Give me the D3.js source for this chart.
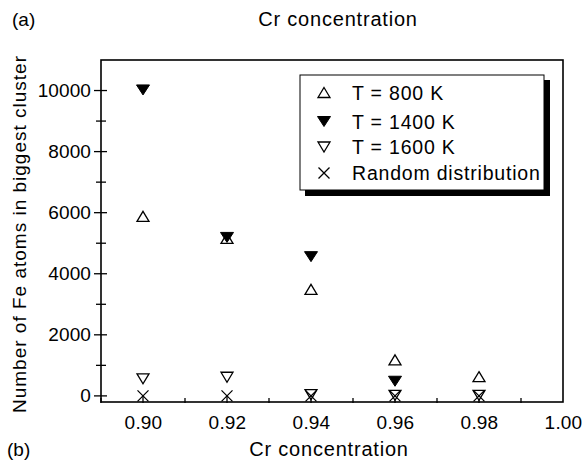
<!DOCTYPE html>
<html lang="en">
<head>
<meta charset="UTF-8">
<title>Fe cluster size vs Cr concentration</title>
<script src="https://d3js.org/d3.v7.min.js"></script>
<style>
    body { margin: 0; background: #fff; }
    text { font-family: "Liberation Sans", Arial, Helvetica, sans-serif; fill: #000; }
    .frame { fill: none; stroke: #000; stroke-width: 1.6px; }
    .tick-line { stroke: #000; stroke-width: 1.3px; }
    .open { fill: #fff; stroke: #000; stroke-width: 1.3px; }
    .filled { fill: #000; stroke: #000; stroke-width: 1px; }
    .cross { fill: none; stroke: #000; stroke-width: 1.3px; }
</style>
</head>
<body>
<svg width="585" height="460"></svg>
<script>
    // data
    let conc = [0.90, 0.92, 0.94, 0.96, 0.98];
    let t800 = [5880, 5160, 3490, 1180, 630];
    let t1400 = [10020, 5190, 4560, 480, null];
    let t1600 = [560, 610, 40, 20, 20];
    let randomDist = [0, 0, 0, 0, 0];
    let legendLabels = ["T = 800 K", "T = 1400 K", "T = 1600 K", "Random distribution"];
    let xTicks = [0.90, 0.92, 0.94, 0.96, 0.98, 1.00];
    let yTicks = [0, 2000, 4000, 6000, 8000, 10000];

    let svg = d3.select('svg');
    let xRng = [101, 563];
    let yRng = [402, 60];
    let xScale = d3.scaleLinear().domain([0.89, 1.00]).range(xRng);
    let yScale = d3.scaleLinear().domain([-200, 11000]).range(yRng);

    // marker shapes, centred on their bounding box
    function upTri(w, h) { return 'M0,' + (-h/2) + 'L' + (w/2) + ',' + (h/2) + 'L' + (-w/2) + ',' + (h/2) + 'Z'; }
    function downTri(w, h) { return 'M' + (-w/2) + ',' + (-h/2) + 'L' + (w/2) + ',' + (-h/2) + 'L0,' + (h/2) + 'Z'; }
    function cross(s) { return 'M' + (-s/2) + ',' + (-s/2) + 'L' + (s/2) + ',' + (s/2) + 'M' + (s/2) + ',' + (-s/2) + 'L' + (-s/2) + ',' + (s/2); }

    let series = [
        {name: legendLabels[0], values: t800, d: upTri(12, 10), cls: 'open'},
        {name: legendLabels[1], values: t1400, d: downTri(13, 10), cls: 'filled'},
        {name: legendLabels[2], values: t1600, d: downTri(12, 10), cls: 'open'},
        {name: legendLabels[3], values: randomDist, d: cross(11), cls: 'cross'}
    ];

    // axes with ticks crossing the frame
    let xAxis = d3.axisBottom(xScale).tickValues(xTicks).tickFormat(d3.format('.2f')).tickSize(0).tickPadding(14);
    let gx = svg.append('g').attr('transform', 'translate(0,' + yRng[0] + ')').call(xAxis);
    gx.select('.domain').remove();
    gx.selectAll('text').attr('font-size', '19px').style('letter-spacing', '0.2px')
        .attr('font-family', '"Liberation Sans", Arial, sans-serif');

    let yAxis = d3.axisLeft(yScale).tickValues(yTicks).tickFormat(d3.format('d')).tickSize(0).tickPadding(10);
    let gy = svg.append('g').attr('transform', 'translate(' + xRng[0] + ',0)').call(yAxis);
    gy.select('.domain').remove();
    gy.selectAll('text').attr('font-size', '19px').style('letter-spacing', '0.1px')
        .attr('font-family', '"Liberation Sans", Arial, sans-serif');

    let xMinor = d3.range(0.89, 1.0, 0.01).map(function (d) { return +d.toFixed(2); });
    svg.append('g').selectAll('line').data(xMinor).join('line')
        .attr('class', 'tick-line')
        .attr('x1', function (d) { return xScale(d); }).attr('x2', function (d) { return xScale(d); })
        .attr('y1', function (d) { return yRng[0] + 1; })
        .attr('y2', function (d) { return yRng[0] - (Math.round(d * 100) % 2 === 0 ? 6 : 4); });

    let yMinor = d3.range(0, 11000, 1000);
    svg.append('g').selectAll('line').data(yMinor).join('line')
        .attr('class', 'tick-line')
        .attr('y1', function (d) { return yScale(d); }).attr('y2', function (d) { return yScale(d); })
        .attr('x1', function (d) { return xRng[0] - (d % 2000 === 0 ? 7 : 5); })
        .attr('x2', function (d) { return xRng[0] + (d % 2000 === 0 ? 6 : 5); });

    svg.append('rect').attr('class', 'frame')
        .attr('x', xRng[0]).attr('y', yRng[1])
        .attr('width', xRng[1] - xRng[0]).attr('height', yRng[0] - yRng[1]);

    // points
    series.forEach(function (s) {
        let pts = conc.map(function (c, i) { return {x: c, y: s.values[i]}; })
            .filter(function (p) { return p.y !== null; });
        svg.append('g').selectAll('path').data(pts).join('path')
            .attr('class', s.cls).attr('d', s.d)
            .attr('transform', function (p) { return 'translate(' + xScale(p.x) + ',' + yScale(p.y) + ')'; });
    });

    // legend with drop shadow
    let lg = svg.append('g').attr('transform', 'translate(300,75)');
    lg.append('rect').attr('x', 5).attr('y', 5).attr('width', 245).attr('height', 116).attr('fill', '#000');
    lg.append('rect').attr('x', 0).attr('y', 0).attr('width', 244).attr('height', 115)
        .attr('fill', '#fff').attr('stroke', '#000').attr('stroke-width', 1);
    let rows = [17.5, 46.5, 72, 98];
    series.forEach(function (s, i) {
        lg.append('path').attr('class', s.cls).attr('d', s.d)
            .attr('transform', 'translate(24,' + rows[i] + ')');
        lg.append('text').attr('x', 52).attr('y', rows[i] + 7)
            .attr('font-size', '19.5px').style('letter-spacing', '0.8px').text(s.name);
    });

    // titles and labels
    svg.append('text').attr('x', 12).attr('y', 26).attr('font-size', '19px').text('(a)');
    svg.append('text').attr('x', 338).attr('y', 26).attr('text-anchor', 'middle')
        .attr('font-size', '20px').style('letter-spacing', '0.8px').text('Cr concentration');
    svg.append('text').attr('x', 7).attr('y', 456).attr('font-size', '19px').text('(b)');
    svg.append('text').attr('x', 329).attr('y', 456).attr('text-anchor', 'middle')
        .attr('font-size', '20px').style('letter-spacing', '0.8px').text('Cr concentration');
    svg.append('text').attr('transform', 'translate(26,234) rotate(-90)')
        .attr('text-anchor', 'middle').attr('font-size', '19px').style('letter-spacing', '1px')
        .text('Number of Fe atoms in biggest cluster');
</script>
</body>
</html>
